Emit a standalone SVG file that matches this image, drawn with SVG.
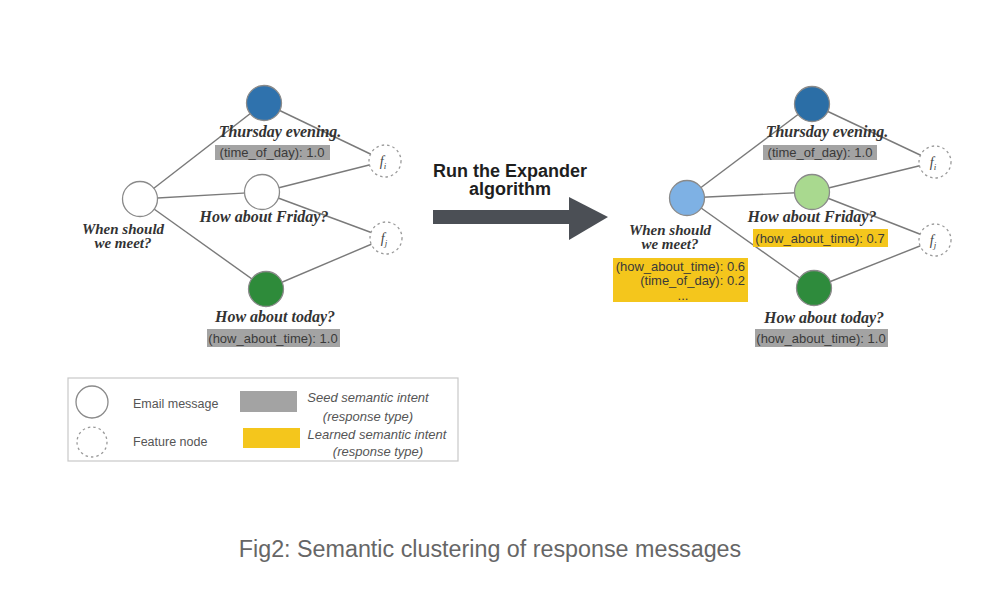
<svg xmlns="http://www.w3.org/2000/svg" width="1000" height="602" viewBox="0 0 1000 602">
<style>
.edge{stroke:#7a7a7a;stroke-width:1.4;fill:none}
.node{stroke:#8a8a8a;stroke-width:1.3}
.feat{fill:#fff;stroke:#999;stroke-width:1.3;stroke-dasharray:2.5 3}
.lbl{font-family:"Liberation Serif",serif;font-style:italic;font-weight:bold;font-size:16px;fill:#333;text-anchor:middle}
.q{font-size:15px}
.tag{font-family:"Liberation Sans",sans-serif;font-size:13px;fill:#3a3a3a;text-anchor:middle}
.end{text-anchor:end}
.seed{fill:#a3a3a3}
.learn{fill:#f4c61c}
.leg{font-family:"Liberation Sans",sans-serif;font-size:12.5px;fill:#555}
.legi{font-family:"Liberation Sans",sans-serif;font-size:13px;fill:#555;font-style:italic;text-anchor:middle}
.fl{font-family:"Liberation Serif",serif;font-style:italic;font-size:14px;fill:#444;text-anchor:middle}
.btxt{font-family:"Liberation Sans",sans-serif;font-weight:bold;font-size:18px;fill:#1e1e1e;text-anchor:middle}
</style>
<rect width="1000" height="602" fill="#fff"/>
<g id="connectors">
<line class="edge" x1="140" y1="199" x2="264" y2="103"/>
<line class="edge" x1="140" y1="199" x2="262" y2="192"/>
<line class="edge" x1="140" y1="199" x2="266" y2="289"/>
<line class="edge" x1="264" y1="103" x2="385" y2="161"/>
<line class="edge" x1="262" y1="192" x2="385" y2="161"/>
<line class="edge" x1="262" y1="192" x2="386" y2="238"/>
<line class="edge" x1="266" y1="289" x2="386" y2="238"/>
<line class="edge" x1="687" y1="198" x2="812" y2="104"/>
<line class="edge" x1="687" y1="198" x2="812" y2="192"/>
<line class="edge" x1="687" y1="198" x2="814" y2="288"/>
<line class="edge" x1="812" y1="104" x2="935" y2="162"/>
<line class="edge" x1="812" y1="192" x2="935" y2="162"/>
<line class="edge" x1="812" y1="192" x2="935" y2="240"/>
<line class="edge" x1="814" y1="288" x2="935" y2="240"/>
</g>
<g id="left-when">
<circle class="node" cx="140" cy="199" r="17.5" fill="#fff"/>
<text class="lbl q" x="123" y="234">When should</text>
<text class="lbl q" x="123" y="248">we meet?</text>
</g>
<g id="left-thursday">
<circle class="node" cx="264" cy="103" r="17.5" fill="#2f72ad" stroke="#4a86bd"/>
<text class="lbl" x="280" y="137">Thursday evening.</text>
<rect class="seed" x="215" y="145" width="115" height="15"/>
<text class="tag" x="272" y="157">(time_of_day): 1.0</text>
</g>
<g id="left-friday">
<circle class="node" cx="262" cy="192" r="17.5" fill="#fff"/>
<text class="lbl" x="264" y="222">How about Friday?</text>
</g>
<g id="left-today">
<circle class="node" cx="266" cy="289" r="17.5" fill="#2e8b3a" stroke="#4a9d55"/>
<text class="lbl" x="275" y="322">How about today?</text>
<rect class="seed" x="207" y="329" width="133" height="18"/>
<text class="tag" x="273" y="342.5">(how_about_time): 1.0</text>
</g>
<g id="left-fi">
<circle class="feat" cx="385" cy="161" r="16"/>
<text class="fl" x="383" y="166">f<tspan font-size="9" dy="3">i</tspan></text>
</g>
<g id="left-fj">
<circle class="feat" cx="386" cy="238" r="16"/>
<text class="fl" x="384" y="243">f<tspan font-size="9" dy="3">j</tspan></text>
</g>
<g id="expander-arrow">
<rect x="433" y="210" width="138" height="14" fill="#4b4f55"/>
<polygon points="569,197 608,217 569,240" fill="#4b4f55"/>
<text class="btxt" x="510" y="177">Run the Expander</text>
<text class="btxt" x="510" y="195">algorithm</text>
</g>
<g id="right-when">
<circle class="node" cx="687" cy="198" r="17.5" fill="#7eb1e4" stroke="#8fbbe6"/>
<text class="lbl q" x="670" y="235">When should</text>
<text class="lbl q" x="670" y="249">we meet?</text>
<rect class="learn" x="613" y="258" width="135" height="44"/>
<text class="tag end" x="745" y="271">(how_about_time): 0.6</text>
<text class="tag end" x="745" y="285">(time_of_day): 0.2</text>
<text class="tag" x="683" y="300" font-size="10">...</text>
</g>
<g id="right-thursday">
<circle class="node" cx="812" cy="104" r="17.5" fill="#2b6ea6" stroke="#4a84b8"/>
<text class="lbl" x="827" y="137">Thursday evening.</text>
<rect class="seed" x="763" y="145" width="114" height="15"/>
<text class="tag" x="820" y="157">(time_of_day): 1.0</text>
</g>
<g id="right-friday">
<circle class="node" cx="812" cy="192" r="17.5" fill="#a9d98f" stroke="#b9dfa3"/>
<text class="lbl" x="812" y="222">How about Friday?</text>
<rect class="learn" x="753" y="229" width="135" height="18"/>
<text class="tag" x="820" y="242.5">(how_about_time): 0.7</text>
</g>
<g id="right-today">
<circle class="node" cx="814" cy="288" r="17.5" fill="#2e8b3c" stroke="#4a9d55"/>
<text class="lbl" x="824" y="323">How about today?</text>
<rect class="seed" x="755" y="329" width="133" height="18"/>
<text class="tag" x="821" y="342.5">(how_about_time): 1.0</text>
</g>
<g id="right-fi">
<circle class="feat" cx="935" cy="162" r="16"/>
<text class="fl" x="933" y="167">f<tspan font-size="9" dy="3">i</tspan></text>
</g>
<g id="right-fj">
<circle class="feat" cx="935" cy="240" r="16"/>
<text class="fl" x="933" y="245">f<tspan font-size="9" dy="3">j</tspan></text>
</g>
<g id="legend">
<rect x="68" y="378" width="390" height="83" fill="#fff" stroke="#c8c8c8" stroke-width="1.2"/>
<circle cx="92" cy="402" r="16" fill="#fff" stroke="#8a8a8a" stroke-width="1.3"/>
<circle class="feat" cx="92" cy="442" r="15"/>
<text class="leg" x="133" y="408">Email message</text>
<text class="leg" x="133" y="446">Feature node</text>
<rect class="seed" x="240" y="391" width="57" height="21"/>
<rect class="learn" x="243" y="428" width="57" height="20"/>
<text class="legi" x="368" y="402">Seed semantic intent</text>
<text class="legi" x="368" y="421">(response type)</text>
<text class="legi" x="377" y="439">Learned semantic intent</text>
<text class="legi" x="378" y="456">(response type)</text>
</g>
<text x="490" y="557" font-family="Liberation Sans,sans-serif" font-size="23.3" fill="#666" text-anchor="middle">Fig2: Semantic clustering of response messages</text>
</svg>
